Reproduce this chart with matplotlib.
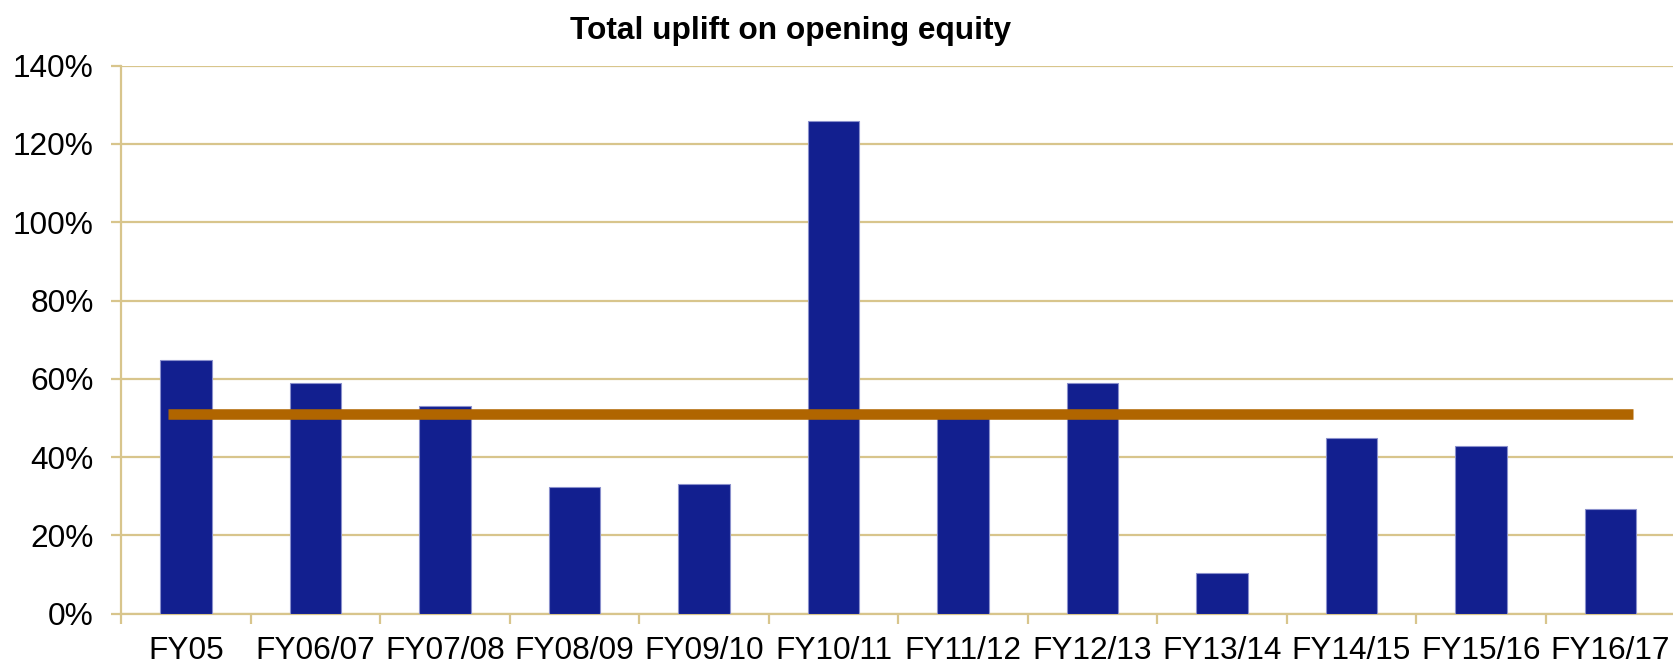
import matplotlib.pyplot as plt
import numpy as np

plt.rcParams['font.family'] = ['Liberation Sans', 'DejaVu Sans']

# data
years = ['FY05', 'FY06/07', 'FY07/08', 'FY08/09', 'FY09/10', 'FY10/11',
         'FY11/12', 'FY12/13', 'FY13/14', 'FY14/15', 'FY15/16', 'FY16/17']
uplift = [64.7, 58.9, 53.0, 32.4, 33.1, 126.0, 50.0, 58.9, 10.4, 44.8, 42.9, 26.8]
average = 51.1
yticks = [0, 20, 40, 60, 80, 100, 120, 140]

grid_col = '#D8C58C'
bar_col = '#121F8F'
line_col = '#B06500'

fig = plt.figure(figsize=(16.74, 6.64), dpi=100)
ax = fig.add_axes([121.3 / 1674, 50.3 / 664, 1554 / 1674, 548 / 664])

x = np.arange(len(years))
ax.bar(x, uplift, width=0.4, color=bar_col, edgecolor='#8A90CC', linewidth=0.8, zorder=3)
ax.plot([x[0] - 0.14, x[-1] + 0.17], [average, average], color=line_col,
        linewidth=7.6, solid_capstyle='butt', zorder=4)

ax.set_xlim(-0.5, len(years) - 0.5)
ax.set_ylim(0, 140)
ax.set_yticks(yticks)
ax.set_yticklabels(['%d%%' % v for v in yticks])
ax.set_xticks(x)
ax.set_xticklabels(years)
ax.set_xticks(np.arange(len(years) + 1) - 0.5, minor=True)

ax.yaxis.grid(True, color=grid_col, linewidth=1.6, zorder=0)
ax.set_axisbelow(True)
for s in ['top', 'right']:
    ax.spines[s].set_visible(False)
for s in ['left', 'bottom']:
    ax.spines[s].set_color(grid_col)
    ax.spines[s].set_linewidth(1.6)

ax.tick_params(axis='y', length=7, width=1.6, color=grid_col, pad=13, labelsize=22.8)
ax.tick_params(axis='x', which='major', length=0, pad=16, labelsize=22.8)
ax.tick_params(axis='x', which='minor', length=7, width=1.6, color=grid_col)

fig.text(791 / 1674, 1 - 39.5 / 664, 'Total uplift on opening equity',
         ha='center', va='baseline', fontsize=22.8, fontweight='bold')

fig.savefig('out.png', dpi=100)
